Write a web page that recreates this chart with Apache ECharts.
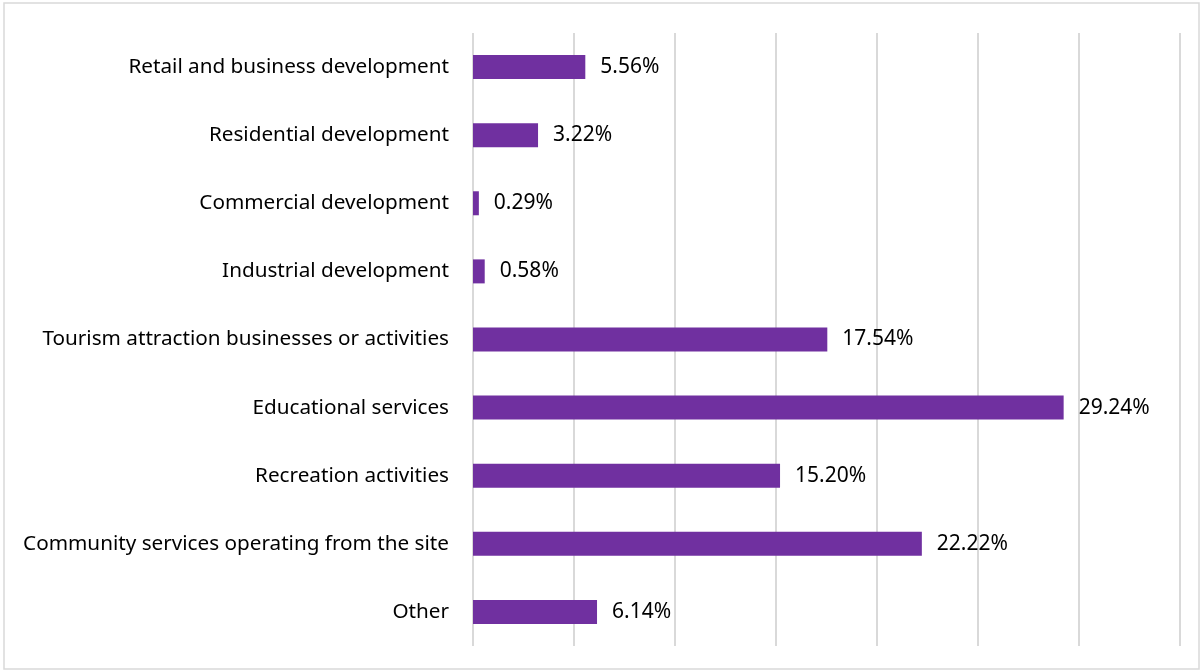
<!DOCTYPE html>
<html>
<head>
<meta charset="utf-8">
<script src="https://cdn.jsdelivr.net/npm/echarts@6/dist/echarts.min.js"></script>
<style>
html,body{margin:0;padding:0;background:#fff;}
#chart{width:1203px;height:672px;}
</style>
</head>
<body>
<div id="chart"></div>
<script>
const categories = [
  "Retail and business development",
  "Residential development",
  "Commercial development",
  "Industrial development",
  "Tourism attraction businesses or activities",
  "Educational services",
  "Recreation activities",
  "Community services operating from the site",
  "Other"
];
const values = [5.56, 3.22, 0.29, 0.58, 17.54, 29.24, 15.20, 22.22, 6.14];

const chart = echarts.init(document.getElementById('chart'));
chart.setOption({
  animation: false,
  backgroundColor: '#fff',
  graphic: [{
    type: 'rect',
    shape: {x: 4, y: 3, width: 1195, height: 666},
    style: {fill: 'none', stroke: '#d9d9d9', lineWidth: 1.5}
  }],
  grid: {left: 473, right: 23, top: 33, bottom: 26},
  xAxis: {
    type: 'value', min: 0, max: 35, interval: 5,
    axisLabel: {show: false}, axisLine: {show: false}, axisTick: {show: false},
    splitLine: {lineStyle: {color: '#d9d9d9', width: 2}}
  },
  yAxis: {
    type: 'category', data: categories, inverse: true,
    axisLine: {show: false}, axisTick: {show: false},
    axisLabel: {margin: 24, fontSize: 20.7, color: '#000', fontFamily: 'Noto Sans'}
  },
  series: [{
    type: 'bar', data: values, barWidth: 24,
    itemStyle: {color: '#7030A0'},
    label: {
      show: true, position: 'right', distance: 15,
      fontSize: 21, color: '#000', fontFamily: 'Noto Sans',
      formatter: p => p.value.toFixed(2) + '%'
    }
  }]
});
</script>
</body>
</html>
